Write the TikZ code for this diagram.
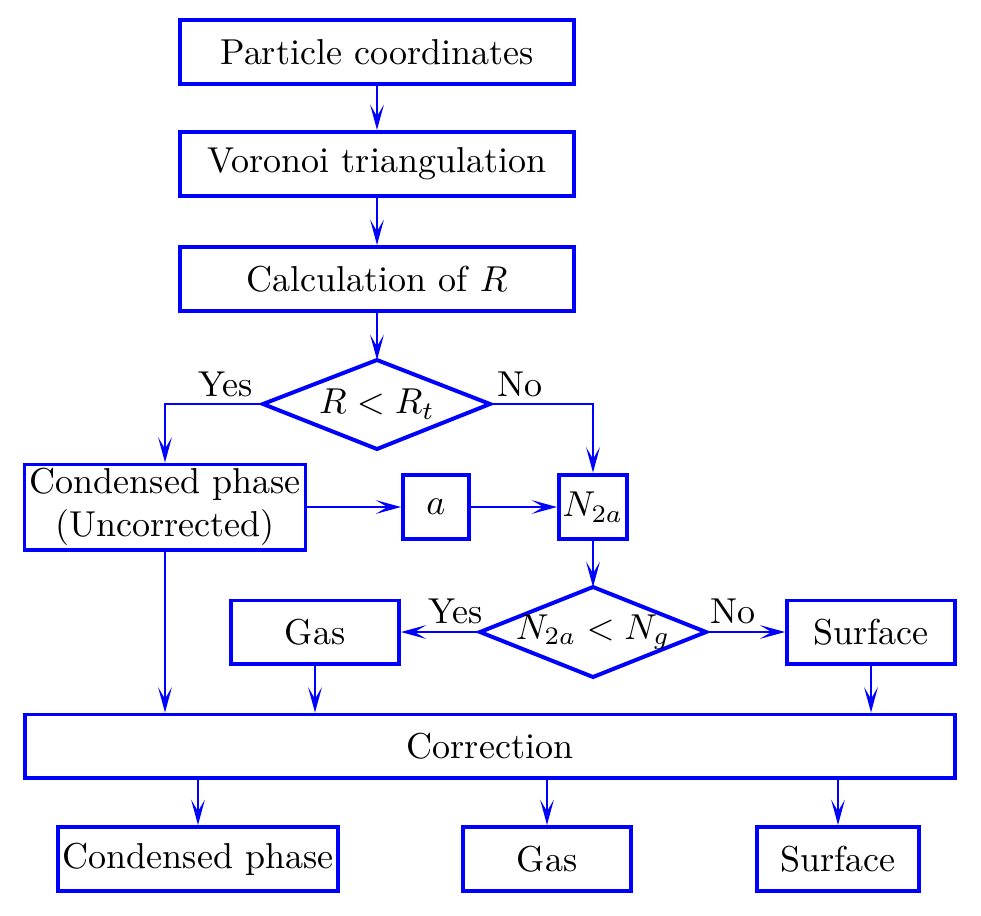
\documentclass[tikz,border=0pt]{standalone}
\usetikzlibrary{arrows.meta}
\definecolor{fb}{RGB}{0,0,255}
\begin{document}
\begin{tikzpicture}[x=0.2776pt,y=0.2776pt,
  box/.style={draw=fb,line width=1.1pt,inner sep=0pt,align=center,font=\fontsize{10}{12}\selectfont},
  dia/.style={draw=fb,line width=1.1pt,line join=miter},
  conn/.style={draw=fb,line width=0.7pt,-{Stealth[length=7pt,width=3.8pt,inset=3.2pt]}},
  lab/.style={font=\fontsize{10}{12}\selectfont,inner sep=0pt}]
\useasboundingbox (0,0) rectangle (981,-915);
\node[box,minimum width=109.6pt,minimum height=17.8pt] (b1) at (377,-52) {Particle coordinates};
\node[box,minimum width=109.6pt,minimum height=17.8pt] (b2) at (377,-164) {Voronoi triangulation};
\node[box,minimum width=109.6pt,minimum height=17.8pt] (b3) at (377,-279) {Calculation of $R$};
% decision 1
\coordinate (d1n) at (377,-360);
\coordinate (d1e) at (490,-404);
\coordinate (d1s) at (377,-449);
\coordinate (d1w) at (263,-404);
\draw[dia] (d1n) -- (d1e) -- (d1s) -- (d1w) -- cycle;
\node[lab] (d1) at (377,-404) {$R<R_t$};
\node[box,minimum width=78.0pt,minimum height=23.6pt] (cond) at (165,-507) {Condensed phase\\(Uncorrected)};
\node[box,minimum width=18.3pt,minimum height=18.0pt] (a) at (436,-507) {$a$};
\node[box,minimum width=18.9pt,minimum height=18.0pt] (n) at (593,-507) {$N_{2a}$};
% decision 2
\coordinate (d2n) at (593,-587);
\coordinate (d2e) at (706,-632);
\coordinate (d2s) at (593,-677);
\coordinate (d2w) at (480,-632);
\draw[dia] (d2n) -- (d2e) -- (d2s) -- (d2w) -- cycle;
\node[lab] (d2) at (593,-632) {$N_{2a}<N_g$};
\node[box,minimum width=46.6pt,minimum height=17.5pt] (gas) at (315,-632) {Gas};
\node[box,minimum width=46.6pt,minimum height=17.5pt] (surf) at (871,-632) {Surface};
\node[box,minimum width=258.2pt,minimum height=17.5pt] (corr) at (490,-746) {Correction};
\node[box,minimum width=77.7pt,minimum height=17.8pt] (bc) at (198,-859) {Condensed phase};
\node[box,minimum width=46.6pt,minimum height=17.8pt] (bg) at (547,-859) {Gas};
\node[box,minimum width=45.0pt,minimum height=17.8pt] (bs) at (838,-859) {Surface};
\node[lab] (y1) at (226,-384) {Yes};
\node[lab] (n1) at (520,-384) {No};
\node[lab] (y2) at (456,-611) {Yes};
\node[lab] (n2) at (733,-611) {No};
\draw[conn] (b1) -- (b2);
\draw[conn] (b2) -- (b3);
\draw[conn] (b3) -- (d1n);
\draw[conn] (d1w) -| (cond.north);
\draw[conn] (d1e) -| (n.north);
\draw[conn] (cond.east) -- (a.west);
\draw[conn] (a.east) -- (n.west);
\draw[conn] (n.south) -- (d2n);
\draw[conn] (d2w) -- (gas.east);
\draw[conn] (d2e) -- (surf.west);
\draw[conn] (cond.south) -- (cond.south |- corr.north);
\draw[conn] (gas.south) -- (gas.south |- corr.north);
\draw[conn] (surf.south) -- (surf.south |- corr.north);
\draw[conn] (bc.north |- corr.south) -- (bc.north);
\draw[conn] (bg.north |- corr.south) -- (bg.north);
\draw[conn] (bs.north |- corr.south) -- (bs.north);
\end{tikzpicture}
\end{document}
